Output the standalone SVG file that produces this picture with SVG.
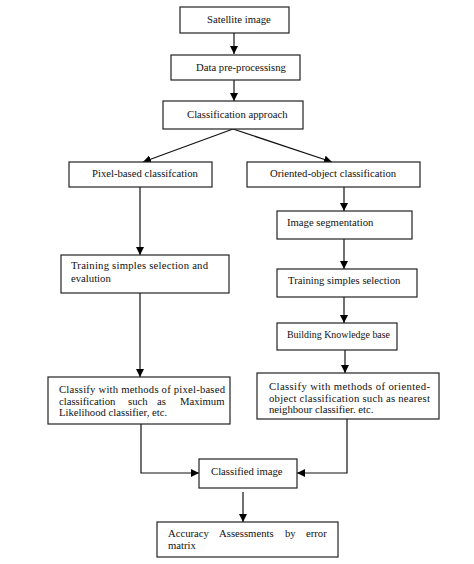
<svg xmlns="http://www.w3.org/2000/svg" width="474" height="564" viewBox="0 0 474 564">
<defs>
<marker id="ah" markerWidth="8" markerHeight="8" refX="8" refY="4" orient="auto" markerUnits="userSpaceOnUse">
<path d="M0,0 L8,4 L0,8 Z" fill="#000"/>
</marker>
<style>
.box{fill:#fff;stroke:#222;stroke-width:1.2}
.t{font-size:10.7px;fill:#111}
.c{fill:none;stroke:#111;stroke-width:1.2;marker-end:url(#ah)}
</style>
</defs>
<rect width="474" height="564" fill="#fff"/>
<g id="connectors">
<path class="c" d="M234,33 V54"/>
<path class="c" d="M234,80 V101"/>
<path class="c" d="M233,129 L143,162"/>
<path class="c" d="M233,129 L332,162"/>
<path class="c" d="M140,187 V255"/>
<path class="c" d="M140,293 V377"/>
<path class="c" d="M344,187 V211"/>
<path class="c" d="M344,239 V269"/>
<path class="c" d="M344,297 V323"/>
<path class="c" d="M345,350 V373"/>
<path class="c" d="M141,424 V473 H199"/>
<path class="c" d="M347,419 V473 H297"/>
<path class="c" d="M243,492 V522"/>
</g>
<g font-family="Liberation Serif, Times New Roman, serif">
<g id="satellite"><rect class="box" x="180" y="7" width="109" height="26"/><text class="t" x="207" y="23">Satellite image</text></g>
<g id="preprocessing"><rect class="box" x="171" y="55" width="129" height="25"/><text class="t" x="196" y="71">Data pre-processisng</text></g>
<g id="approach"><rect class="box" x="163" y="101" width="140" height="28"/><text class="t" x="187" y="118">Classification approach</text></g>
<g id="pixel"><rect class="box" x="69" y="162" width="143" height="25"/><text class="t" x="92" y="177">Pixel-based classifcation</text></g>
<g id="oriented"><rect class="box" x="247" y="162" width="173" height="25"/><text class="t" x="270" y="177">Oriented-object classification</text></g>
<g id="training1"><rect class="box" x="61" y="255" width="168" height="38"/>
<text class="t" x="71" y="269" textLength="137" lengthAdjust="spacing">Training simples selection and</text>
<text class="t" x="71" y="282">evalution</text></g>
<g id="segmentation"><rect class="box" x="277" y="211" width="135" height="28"/><text class="t" x="287" y="226">Image segmentation</text></g>
<g id="training2"><rect class="box" x="277" y="269" width="140" height="28"/><text class="t" x="288" y="284">Training simples selection</text></g>
<g id="knowledge"><rect class="box" x="277" y="323" width="120" height="27"/><text class="t" x="287" y="338" textLength="103" lengthAdjust="spacingAndGlyphs">Building Knowledge base</text></g>
<g id="classifypixel"><rect class="box" x="48" y="377" width="182" height="47"/>
<text class="t" x="59" y="393" textLength="166" lengthAdjust="spacing">Classify with methods of pixel-based</text>
<text class="t" y="405"><tspan x="59">classification</tspan><tspan x="128">such</tspan><tspan x="157">as</tspan><tspan x="180">Maximum</tspan></text>
<text class="t" x="59" y="416">Likelihood classifier, etc.</text></g>
<g id="classifyoriented"><rect class="box" x="257" y="373" width="182" height="46"/>
<text class="t" x="269" y="390" textLength="161" lengthAdjust="spacing">Classify with methods of oriented-</text>
<text class="t" x="269" y="402" textLength="161" lengthAdjust="spacing">object classification such as nearest</text>
<text class="t" x="269" y="413">neighbour classifier. etc.</text></g>
<g id="classified"><rect class="box" x="199" y="459" width="98" height="29"/><text class="t" x="211" y="475">Classified image</text></g>
<g id="accuracy"><rect class="box" x="157" y="522" width="181" height="35"/>
<text class="t" y="537"><tspan x="168">Accuracy</tspan><tspan x="219">Assessments</tspan><tspan x="285">by</tspan><tspan x="306">error</tspan></text>
<text class="t" x="168" y="549">matrix</text></g>
</g>
</svg>
